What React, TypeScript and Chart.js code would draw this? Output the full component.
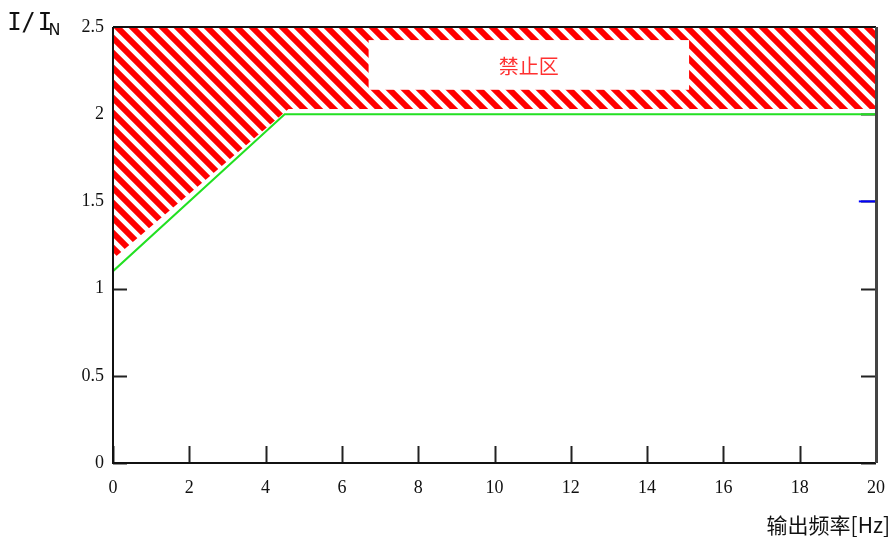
import React, { useEffect, useRef } from "react";
import { Chart, registerables } from "chart.js";

Chart.register(...registerables);

// Data
const limitX = [0, 4.5, 20];
const limitY = [1.1, 2.0, 2.0];
const zoneX = [0, 4.6, 20];
const zoneY = [1.17, 2.03, 2.03];
const markerX = [19.55, 20];
const markerY = [1.5, 1.5];
const xTickValues = [0, 2, 4, 6, 8, 10, 12, 14, 16, 18, 20];
const yTickValues = [0, 0.5, 1, 1.5, 2, 2.5];
const zoneLabel = "禁止区";
const xTitle = "输出频率[Hz]";
const yTitleParts = ["I", "/", "I"];
const yTitleSub = "N";
const labelBoxX = [6.7, 15.1];
const labelBoxY = [2.14, 2.425];

function makePattern(): CanvasPattern | string {
  const s = 15;
  const big = document.createElement("canvas");
  big.width = s * 3;
  big.height = s * 3;
  const b = big.getContext("2d");
  if (!b) return "red";
  b.fillStyle = "#ffffff";
  b.fillRect(0, 0, s * 3, s * 3);
  b.strokeStyle = "#ff0000";
  b.lineWidth = 6;
  for (let k = -4; k <= 4; k++) {
    b.beginPath();
    b.moveTo(k * s - 5, -5);
    b.lineTo(k * s + 3 * s + 5, 3 * s + 5);
    b.stroke();
  }
  const pc = document.createElement("canvas");
  pc.width = s;
  pc.height = s;
  const c = pc.getContext("2d");
  if (!c) return "red";
  try {
    (c as any).filter = "blur(0.7px)";
  } catch (e) {}
  c.drawImage(big, -s, -s);
  const p = c.createPattern(pc, "repeat");
  return p || "red";
}

const framePlugin = {
  id: "frame",
  beforeDatasetsDraw(chart: any) {
    const { ctx, chartArea } = chart;
    const xs = chart.scales.x;
    const ys = chart.scales.y;
    ctx.save();
    ctx.strokeStyle = "#222";
    ctx.lineWidth = 2;
    for (const v of yTickValues) {
      const py = Math.round(ys.getPixelForValue(v)) + 0.5;
      ctx.beginPath();
      ctx.moveTo(chartArea.left, py);
      ctx.lineTo(chartArea.left + 14, py);
      ctx.moveTo(chartArea.right - 15, py);
      ctx.lineTo(chartArea.right, py);
      ctx.stroke();
    }
    for (const v of xTickValues) {
      const px = Math.round(xs.getPixelForValue(v)) + 0.5;
      ctx.beginPath();
      ctx.moveTo(px, chartArea.bottom);
      ctx.lineTo(px, chartArea.bottom - 17);
      ctx.stroke();
    }
    ctx.restore();
  },
  afterDatasetsDraw(chart: any) {
    const { ctx, chartArea } = chart;
    const xs = chart.scales.x;
    const ys = chart.scales.y;
    ctx.save();
    const bx0 = xs.getPixelForValue(labelBoxX[0]);
    const bx1 = xs.getPixelForValue(labelBoxX[1]);
    const by0 = ys.getPixelForValue(labelBoxY[1]);
    const by1 = ys.getPixelForValue(labelBoxY[0]);
    ctx.fillStyle = "#ffffff";
    ctx.fillRect(bx0, by0, bx1 - bx0, by1 - by0);
    ctx.fillStyle = "#ff3030";
    ctx.font = '20px "Noto Sans CJK SC"';
    ctx.textAlign = "center";
    ctx.textBaseline = "middle";
    ctx.fillText(zoneLabel, (bx0 + bx1) / 2, (by0 + by1) / 2 + 1);
    ctx.strokeStyle = "#111";
    ctx.lineWidth = 2;
    ctx.beginPath();
    ctx.moveTo(chartArea.left, chartArea.top);
    ctx.lineTo(chartArea.right, chartArea.top);
    ctx.moveTo(chartArea.left, chartArea.top);
    ctx.lineTo(chartArea.left, chartArea.bottom);
    ctx.lineTo(chartArea.right, chartArea.bottom);
    ctx.stroke();
    ctx.strokeStyle = "#444";
    ctx.lineWidth = 3;
    ctx.beginPath();
    ctx.moveTo(chartArea.right + 0.5, chartArea.top);
    ctx.lineTo(chartArea.right + 0.5, chartArea.bottom);
    ctx.stroke();
    ctx.restore();
  },
  afterDraw(chart: any) {
    const { ctx, width } = chart;
    ctx.save();
    ctx.fillStyle = "#111";
    ctx.textBaseline = "alphabetic";
    ctx.textAlign = "center";
    ctx.font = '24px "DejaVu Sans Mono"';
    const centers = [14.5, 28.5, 45];
    yTitleParts.forEach((ch, i) => ctx.fillText(ch, centers[i], 30));
    ctx.textAlign = "left";
    ctx.font = '16px "DejaVu Sans"';
    ctx.fillText(yTitleSub, 48.5, 35);
    ctx.font = '21px "Noto Sans CJK SC"';
    ctx.textAlign = "right";
    ctx.fillText(xTitle, width - 3, 533);
    ctx.restore();
  },
};

export default function App() {
  const ref = useRef<HTMLCanvasElement | null>(null);
  useEffect(() => {
    document.body.style.margin = "0";
    const canvas = ref.current;
    if (!canvas) return;
    const pattern = makePattern();
    const chart = new Chart(canvas, {
      type: "line",
      data: {
        datasets: [
          {
            label: "limit",
            data: limitX.map((x, i) => ({ x, y: limitY[i] })),
            borderColor: "#22e022",
            borderWidth: 2,
            pointRadius: 0,
            fill: false,
            tension: 0,
          },
          {
            label: "marker",
            data: markerX.map((x, i) => ({ x, y: markerY[i] })),
            borderColor: "#0000ff",
            borderWidth: 2,
            pointRadius: 0,
            fill: false,
          },
          {
            label: "zone",
            data: zoneX.map((x, i) => ({ x, y: zoneY[i] })),
            borderColor: "rgba(0,0,0,0)",
            borderWidth: 0,
            pointRadius: 0,
            backgroundColor: pattern as any,
            fill: "end",
            tension: 0,
          },
        ],
      },
      options: {
        animation: false,
        responsive: false,
        devicePixelRatio: 1,
        layout: { padding: { left: 0, right: 17, top: 27, bottom: 0 } },
        plugins: {
          legend: { display: false },
          tooltip: { enabled: false },
          title: { display: false },
        },
        scales: {
          x: {
            type: "linear",
            min: 0,
            max: 20,
            afterFit: (s: any) => {
              s.height = 76;
            },
            afterBuildTicks: (s: any) => {
              s.ticks = xTickValues.map((v) => ({ value: v }));
            },
            grid: { display: false },
            border: { display: false },
            ticks: {
              color: "#111",
              padding: 6,
              font: { family: '"Liberation Serif"', size: 18 },
              maxRotation: 0,
              callback: (v: any) => String(v),
            },
          },
          y: {
            type: "linear",
            min: 0,
            max: 2.5,
            afterFit: (s: any) => {
              s.width = 113;
            },
            afterBuildTicks: (s: any) => {
              s.ticks = yTickValues.map((v) => ({ value: v }));
            },
            grid: { display: false },
            border: { display: false },
            ticks: {
              color: "#111",
              padding: 1,
              font: { family: '"Liberation Serif"', size: 18 },
              callback: (v: any) => String(v),
            },
          },
        },
      },
      plugins: [framePlugin],
    });
    return () => chart.destroy();
  }, []);
  return (
    <div style={{ width: 893, height: 539 }}>
      <canvas ref={ref} width={893} height={539} style={{ display: "block", width: 893, height: 539 }} />
    </div>
  );
}
